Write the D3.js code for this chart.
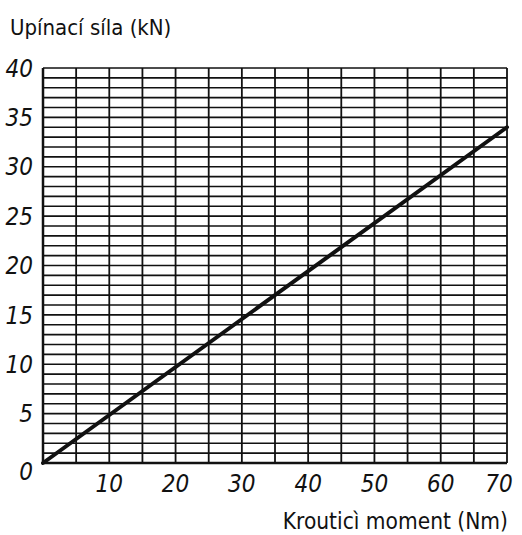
<!DOCTYPE html>
<html>
<head>
<meta charset="utf-8">
<script src="https://cdn.jsdelivr.net/npm/d3@7"></script>
<style>
  body { margin: 0; background: #fff; overflow: hidden; }
  svg { display: block; }
  text { font-family: "Liberation Sans Narrow", "DejaVu Sans Condensed", "Roboto", sans-serif; fill: #111; }
</style>
</head>
<body>
<div id="chart"></div>
<script>
// data
const torque = [0, 70];          // Nm
const force = [0, 34];           // kN
const xTicks = [10, 20, 30, 40, 50, 60, 70];
const yTicks = [0, 5, 10, 15, 20, 25, 30, 35, 40];
const yTitle = "Upínací síla (kN)";
const xTitle = "Krouticì moment (Nm)";

var margin = {top: 68, right: 15, bottom: 72, left: 43},
    W = 522, H = 535,
    width = W - margin.left - margin.right,
    height = H - margin.top - margin.bottom;

var svg = d3.select("#chart").append("svg")
    .attr("width", W).attr("height", H)
    .append("g")
    .attr("transform", "translate(" + margin.left + "," + margin.top + ")");

var x = d3.scaleLinear().domain([0, 70]).range([0, width]);
var y = d3.scaleLinear().domain([0, 40]).range([height, 0]);

// grid: vertical every 5 Nm, horizontal every 1 kN
svg.append("g")
    .selectAll("line")
    .data(d3.range(0, 71, 5))
    .join("line")
    .attr("x1", d => x(d)).attr("x2", d => x(d))
    .attr("y1", 0).attr("y2", height)
    .attr("stroke", "#111").attr("stroke-width", 1.8);

svg.append("g")
    .selectAll("line")
    .data(d3.range(0, 41, 1))
    .join("line")
    .attr("x1", 0).attr("x2", width)
    .attr("y1", d => y(d)).attr("y2", d => y(d))
    .attr("stroke", "#111").attr("stroke-width", 1.6);

// axes lines a bit heavier
svg.append("line")
    .attr("x1", 0).attr("x2", 0).attr("y1", 0).attr("y2", height)
    .attr("stroke", "#111").attr("stroke-width", 2.5);
svg.append("line")
    .attr("x1", 0).attr("x2", width).attr("y1", height).attr("y2", height)
    .attr("stroke", "#111").attr("stroke-width", 2.5);

// y tick labels
svg.append("g")
    .selectAll("text")
    .data(yTicks)
    .join("text")
    .attr("x", -10)
    .attr("y", d => y(d))
    .attr("dy", d => d === 0 ? "0.7em" : "0.36em")
    .attr("text-anchor", "end")
    .style("font-size", "24px")
    .style("font-style", "italic")
    .text(d => d);

// x tick labels
svg.append("g")
    .selectAll("text")
    .data(xTicks)
    .join("text")
    .attr("x", d => d === 70 ? x(d) - 8 : x(d))
    .attr("y", height + 29)
    .attr("text-anchor", "middle")
    .style("font-size", "24px")
    .style("font-style", "italic")
    .text(d => d);

// titles
svg.append("text")
    .attr("x", -33)
    .attr("y", -33)
    .style("font-size", "22px")
    .text(yTitle);

// x title: measured so the closing bracket ends at the grid's right edge
var xt = svg.append("text")
    .attr("y", height + 66)
    .style("font-size", "22.5px")
    .text(xTitle);
var len = xt.node().getComputedTextLength();
xt.attr("x", width + 1 - len);

// the characteristic line
var line = d3.line()
    .x(d => x(d[0]))
    .y(d => y(d[1]));

svg.append("path")
    .datum(d3.zip(torque, force))
    .attr("d", line)
    .attr("fill", "none")
    .attr("stroke", "#111")
    .attr("stroke-width", 4)
    .attr("stroke-linecap", "round");
</script>
</body>
</html>
